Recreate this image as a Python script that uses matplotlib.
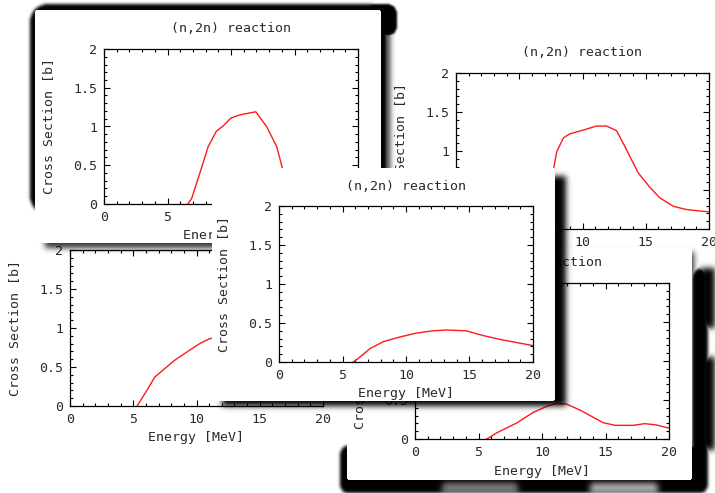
import numpy as np
import matplotlib
matplotlib.use("Agg")
import matplotlib.pyplot as plt

W, H = 715, 493

# (n,2n) cross sections: energy [MeV] and sigma [b] for each plot window
e_a = [6.6, 6.9, 7.55, 8.2, 8.85, 9.4, 10.0, 10.7, 11.95, 12.8, 13.6, 14.05, 15.0, 16.0, 18.0, 20.0]
s_a = [0.0, 0.07, 0.40, 0.74, 0.94, 1.01, 1.11, 1.15, 1.19, 1.00, 0.74, 0.46, 0.30, 0.20, 0.12, 0.08]

e_b = [6.7, 7.0, 7.4, 7.75, 7.96, 8.5, 9.0, 10.1, 11.1, 11.9, 12.7, 13.5, 14.4, 15.3, 16.1, 17.2, 18.2, 19.3, 20.0]
s_b = [0.0, 0.3, 0.6, 0.80, 0.99, 1.17, 1.22, 1.27, 1.32, 1.32, 1.26, 1.01, 0.72, 0.54, 0.40, 0.29, 0.25, 0.23, 0.22]

e_c = [5.3, 6.0, 6.7, 7.2, 8.3, 9.5, 10.25, 11.0, 12.5, 14.0, 16.0, 18.0, 20.0]
s_c = [0.0, 0.18, 0.37, 0.44, 0.59, 0.72, 0.80, 0.86, 0.92, 0.95, 0.94, 0.90, 0.86]

e_d = [5.65, 6.45, 8.0, 9.3, 10.4, 11.0, 11.9, 13.0, 14.8, 15.75, 17.2, 18.1, 19.0, 20.0]
s_d = [0.0, 0.08, 0.205, 0.34, 0.42, 0.45, 0.45, 0.37, 0.21, 0.175, 0.175, 0.197, 0.18, 0.14]

e_e = [5.85, 6.2, 7.15, 8.2, 9.5, 10.8, 12.1, 13.2, 14.75, 16.05, 17.4, 18.7, 20.0]
s_e = [0.0, 0.04, 0.17, 0.26, 0.32, 0.37, 0.40, 0.41, 0.40, 0.34, 0.29, 0.25, 0.21]

x_ticks = [0, 5, 10, 15, 20]
x_labels = ["0", "5", "10", "15", "20"]
y_ticks = [0, 0.5, 1, 1.5, 2]
y_labels = ["0", "0.5", "1", "1.5", "2"]

title = "(n,2n) reaction"
xlabel = "Energy [MeV]"
ylabel = "Cross Section [b]"

FONT = "DejaVu Sans Mono"
FS = 9.5
INK = "#2a2a2a"

yy, xx = np.mgrid[0:H, 0:W] + 0.5


def rrect(x0, y0, x1, y1, r=0.0):
    dx = np.maximum(np.maximum(x0 + r - xx, xx - (x1 - r)), 0)
    dy = np.maximum(np.maximum(y0 + r - yy, yy - (y1 - r)), 0)
    inside = (xx >= x0) & (xx <= x1) & (yy >= y0) & (yy <= y1)
    return (inside & (dx ** 2 + dy ** 2 <= r ** 2)).astype(float)


def blur(a, s):
    if s <= 0:
        return a
    n = int(3 * s) + 1
    k = np.exp(-0.5 * (np.arange(-n, n + 1) / s) ** 2)
    k /= k.sum()
    a = np.apply_along_axis(lambda v: np.convolve(v, k, mode="same"), 0, a)
    a = np.apply_along_axis(lambda v: np.convolve(v, k, mode="same"), 1, a)
    return a


def backdrop(fig, card, shadows, lights, z):
    # window card (white) with its drop shadow, drawn as one RGBA layer
    sh = np.zeros((H, W))
    for rect, r, s, alpha in shadows:
        sh = np.maximum(sh, alpha * blur(rrect(*rect, r), s))
    for rect, s, amount in lights:
        sh = sh * (1 - amount * blur(rrect(*rect, 4), s))
    card_m = rrect(*card, 2)
    img = np.zeros((H, W, 4))
    img[..., :3] = card_m[..., None]
    img[..., 3] = np.maximum(card_m, sh)
    ax = fig.add_axes([0, 0, 1, 1], zorder=z)
    ax.imshow(img, extent=(0, W, H, 0), aspect="auto", interpolation="bilinear")
    ax.set_xlim(0, W)
    ax.set_ylim(H, 0)
    ax.axis("off")
    return ax


def plot_window(fig, box, e, s, z):
    l, t, r, b = box
    w, h = r - l, b - t
    ax = fig.add_axes([l / W, 1 - b / H, w / W, h / H], zorder=z)
    ax.set_facecolor("none")
    ax.plot(e, s, color="#ff1a1a", lw=1.0)
    ax.set_xlim(0, 20)
    ax.set_ylim(0, 2)
    ax.set_xticks(x_ticks, labels=x_labels)
    ax.set_yticks(y_ticks, labels=y_labels)
    ax.set_xticks(np.arange(0, 21, 1), minor=True)
    ax.set_yticks(np.arange(0, 2.01, 0.1), minor=True)
    ax.tick_params(which="both", direction="in", top=True, right=True,
                   width=0.8, colors="black", labelcolor=INK, labelsize=FS)
    ax.tick_params(which="major", length=4.5, pad=5)
    ax.tick_params(which="minor", length=2.2)
    for lab in ax.get_xticklabels() + ax.get_yticklabels():
        lab.set_family(FONT)
    for sp in ax.spines.values():
        sp.set_linewidth(0.9)
    ax.set_xlabel(xlabel, family=FONT, fontsize=FS, color=INK, va="center")
    ax.set_ylabel(ylabel, family=FONT, fontsize=FS, color=INK, va="center")
    ax.xaxis.set_label_coords(0.5, -32 / h)
    ax.yaxis.set_label_coords(-55 / w, 0.5)
    ax.text(0.5, 1 + 20 / h, title, transform=ax.transAxes, ha="center",
            va="center", family=FONT, fontsize=FS, color=INK)
    return ax


fig = plt.figure(figsize=(W / 100, H / 100), dpi=100)
fig.patch.set_facecolor("white")

# windows from back to front: card, shadows, lighter spots, axes box (pixels), data
windows = [
    ((388, 0, 730, 300), [], [], (456, 73, 709, 229), e_b, s_b),
    ((-10, 215, 345, 500), [], [], (70, 250, 323, 406), e_c, s_c),
    ((35, 10, 381, 243),
     [((30, 4, 387, 214), 18, 1.5, 1.0),
      ((362, 4, 397, 36), 10, 1.0, 1.0),
      ((45, 20, 390, 248), 0, 3.0, 0.8)],
     [],
     (104, 49, 358, 204), e_a, s_a),
    ((347, 247, 692, 480),
     [((340, 445, 708, 494), 10, 1.5, 1.0),
      ((692, 268, 708, 494), 10, 1.5, 1.0),
      ((700, 268, 720, 328), 0, 3.0, 1.0),
      ((700, 357, 720, 450), 0, 3.0, 1.0),
      ((360, 252, 694, 484), 0, 3.0, 0.8)],
     [((442, 483, 518, 500), 3.0, 0.5),
      ((590, 483, 658, 500), 3.0, 0.7)],
     (415, 283, 669, 439), e_d, s_d),
    ((212, 168, 555, 401),
     [((222, 176, 566, 406), 0, 3.0, 1.0)],
     [],
     (279, 206, 533, 362), e_e, s_e),
]

for i, (card, shadows, lights, box, e, s) in enumerate(windows):
    backdrop(fig, card, shadows, lights, 2 * i)
    plot_window(fig, box, e, s, 2 * i + 1)

fig.savefig("out.png", dpi=100)
